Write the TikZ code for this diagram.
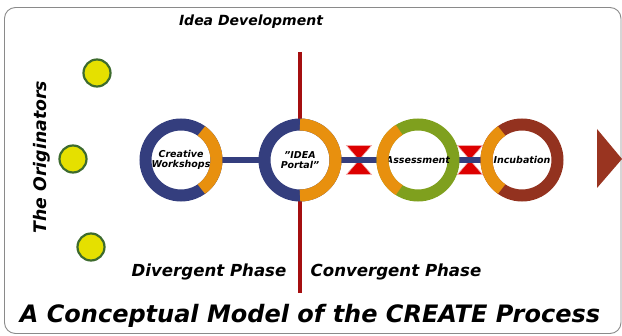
\documentclass[tikz,border=0pt]{standalone}
\usepackage{fontspec}
\setmainfont{DejaVu Sans}
\usetikzlibrary{calc,backgrounds}

\definecolor{ringblue}{HTML}{343E7E}
\definecolor{ringorange}{HTML}{E8900E}
\definecolor{ringgreen}{HTML}{7FA01E}
\definecolor{ringbrown}{HTML}{93321F}
\definecolor{divred}{HTML}{A50F10}
\definecolor{hgred}{HTML}{DD0000}
\definecolor{dotyellow}{HTML}{E5E000}
\definecolor{dotgreen}{HTML}{3D6B2E}
\definecolor{arrowbrown}{HTML}{993420}
\definecolor{framegray}{HTML}{8A8A8A}

\newcommand{\lbl}[1]{\fontsize{#1}{#1}\selectfont\bfseries\itshape}

\tikzset{
  ring/.style={circle, draw=#1, line width=12pt, fill=white, minimum size=71pt,
    inner sep=0pt, outer sep=0pt, align=center, font=\lbl{9.5}},
  arcpart/.style={draw=ringorange, line width=12pt},
  originator/.style={circle, draw=dotgreen, line width=2.2pt, fill=dotyellow,
    minimum size=27pt, inner sep=0pt},
  caption/.style={font=\lbl{16.6}, inner sep=0pt},
  link/.style={draw=ringblue, line width=6pt},
  valve/.style={fill=hgred, draw=hgred!35, line width=0.6pt},
}

\begin{document}
\begin{tikzpicture}[x=1pt,y=-1pt]
\useasboundingbox (0,0) rectangle (622,336);

% process stages
\node[ring=ringblue] (cw) at (181,160) {Creative\\Workshops};
\node[ring=ringblue] (ip) at (300,160) {"IDEA\\Portal"};
\node[ring=ringgreen] (as) at (418,160) {Assessment};
\node[ring=ringbrown] (inc) at (522,160) {Incubation};

% orange segments of the rings (y axis points down, so angles are mirrored)
\draw[arcpart] (cw.55) arc[start angle=-55, end angle=55, radius=35.5];
\draw[arcpart] (ip.90) arc[start angle=-90, end angle=90, radius=35.5];
\draw[arcpart] (as.122) arc[start angle=-122, end angle=-238, radius=35.5];
\draw[arcpart] (inc.125) arc[start angle=-125, end angle=-235, radius=35.5];

% valves between the convergent stages
\coordinate (v1) at ($(ip)!0.5!(as)$);
\coordinate (v2) at ($(as)!0.5!(inc)$);

% phase divider end points and forward arrow anchor
\coordinate (divtop) at (300,52);
\coordinate (divbot) at (300,293);
\coordinate (arr) at (597,159);

\begin{scope}[on background layer]
  \draw[framegray, line width=0.9pt, rounded corners=11pt]
    (4.5,7.5) rectangle (621,333.5);
  \draw[divred, line width=4pt] (divtop) -- (divbot);
  \foreach \v in {v1,v2} {
    \path[valve] ($(\v)+(-12.5,-14.5)$) -- ($(\v)+(12.5,-14.5)$) -- (\v) -- cycle;
    \path[valve] ($(\v)+(-12.5,14.5)$) -- ($(\v)+(12.5,14.5)$) -- (\v) -- cycle;
  }
  \draw[link] (cw) -- (ip);
  \draw[link] (ip) -- (as);
  \draw[link] (as) -- (inc);
\end{scope}

\fill[arrowbrown] ($(arr)+(0,-30)$) -- ($(arr)+(25,0)$) -- ($(arr)+(0,29)$) -- cycle;

% the originators
\node[originator] (o1) at (97,73) {};
\node[originator] (o2) at (73,159) {};
\node[originator] (o3) at (91,247) {};
\node[caption, rotate=90, font=\lbl{17.3}] (orig) at (42,157) {The Originators};

% captions
\node[caption, font=\lbl{14}] (idea) at (251,22) {Idea Development};
\node[caption] (div) at (209,272) {Divergent Phase};
\node[caption] (conv) at (396,272) {Convergent Phase};
\node[caption, font=\lbl{24}] (title) at (310,316) {A Conceptual Model of the CREATE Process};
\end{tikzpicture}
\end{document}
